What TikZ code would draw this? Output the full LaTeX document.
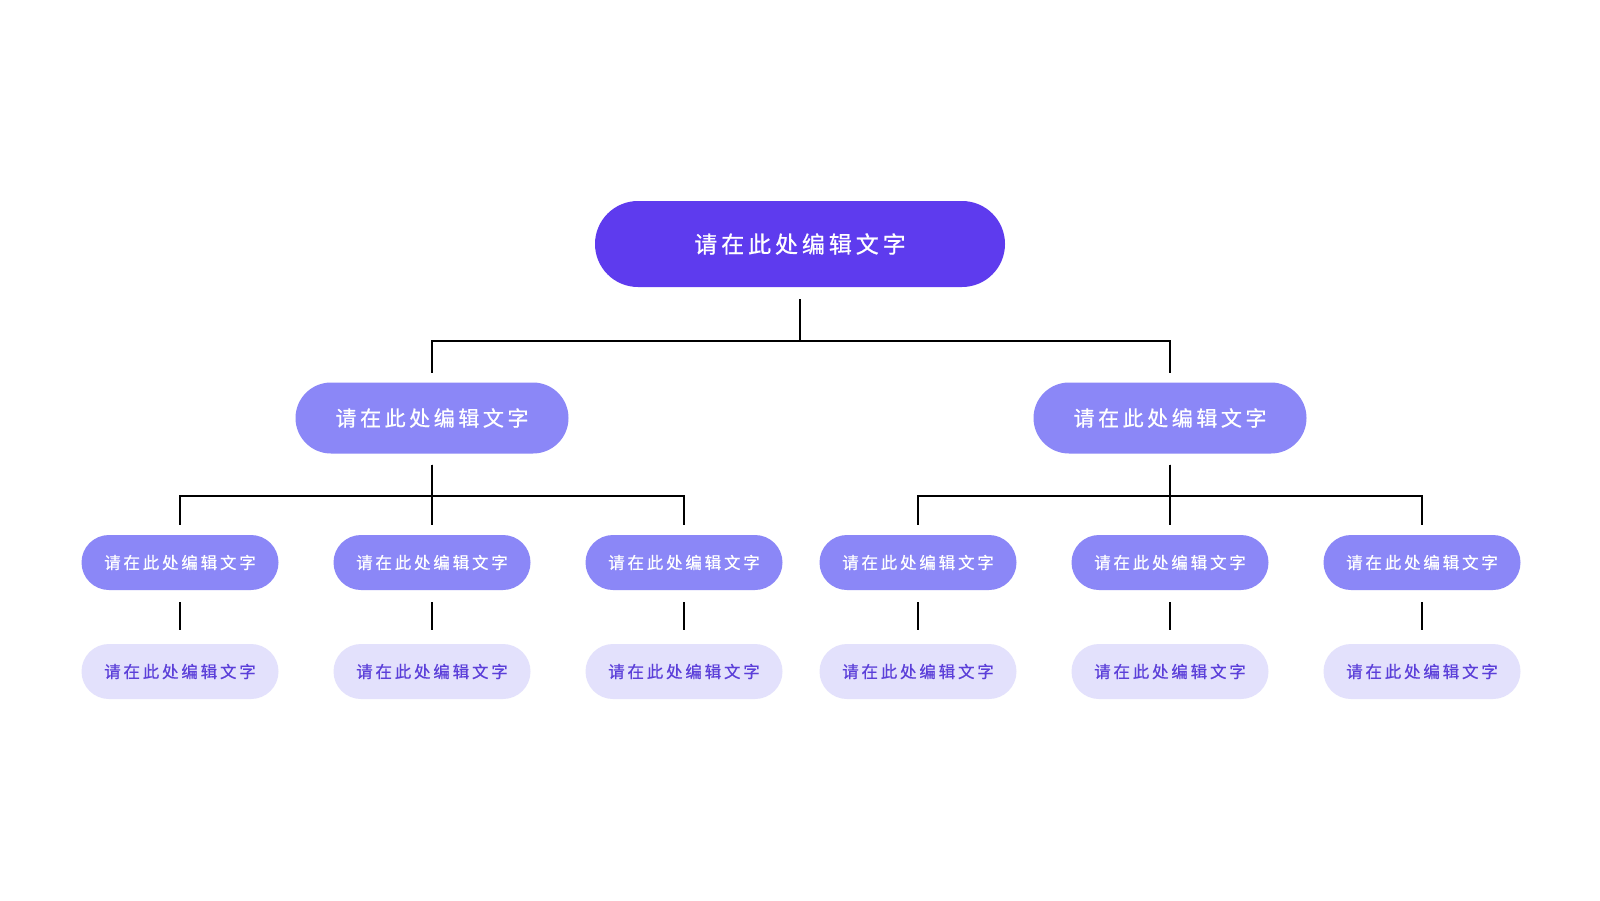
\documentclass[tikz,border=0pt]{standalone}
\usepackage{fontspec}
\usepackage{tikz}
\usetikzlibrary{shapes.misc}
\newfontfamily\cjk[LetterSpace=17, FakeBold=0.7]{Noto Sans CJK SC}
\definecolor{rootfill}{RGB}{94,59,238}
\definecolor{midfill}{RGB}{139,135,247}
\definecolor{leaffill}{RGB}{227,225,252}
\definecolor{leaftext}{RGB}{91,63,217}
\newcommand{\boxText}[0]{\raisebox{-1pt}{请在此处编辑文字}}

\begin{document}
\begin{tikzpicture}[x=1pt, y=-1pt]
  \tikzset{
    every node/.style={rounded rectangle, inner sep=0pt, font=\cjk},
    topbox/.style={fill=rootfill, text=white, minimum width=410pt, minimum height=86pt, font=\cjk\fontsize{23}{23}\selectfont},
    midbox/.style={fill=midfill, text=white, minimum width=273pt, minimum height=71pt, font=\cjk\fontsize{21}{21}\selectfont},
    subbox/.style={fill=midfill, text=white, minimum width=197pt, minimum height=55pt, font=\cjk\fontsize{16.5}{16.5}\selectfont},
    leafbox/.style={fill=leaffill, text=leaftext, minimum width=197pt, minimum height=55pt, font=\cjk\fontsize{16.5}{16.5}\selectfont},
    link/.style={draw=black, line width=1.8pt}
  }
  \fill[white] (0,0) rectangle (1600,900);
  \useasboundingbox (0,0) rectangle (1600,900);

  \node[topbox] (root) at (800,244) {\boxText};
  \node[midbox] (L1-1) at (432,418) {\boxText};
  \node[midbox] (L1-2) at (1170,418) {\boxText};
  \foreach \i/\x/\p in {1/180/1, 2/432/1, 3/684/1, 4/918/2, 5/1170/2, 6/1422/2} {
    \node[subbox] (L2-\i) at (\x,562.5) {\boxText};
    \node[leafbox] (L3-\i) at (\x,671.5) {\boxText};
    \draw[link, shorten <=11pt, shorten >=10pt] (L1-\p.south) -- ++(0,42) -| (L2-\i.north);
    \draw[link, shorten <=12pt, shorten >=14pt] (L2-\i.south) -- (L3-\i.north);
  }
  \draw[link, shorten <=12pt, shorten >=9pt] (root.south) -- ++(0,54) -| (L1-1.north);
  \draw[link, shorten <=12pt, shorten >=9pt] (root.south) -- ++(0,54) -| (L1-2.north);
\end{tikzpicture}
\end{document}
